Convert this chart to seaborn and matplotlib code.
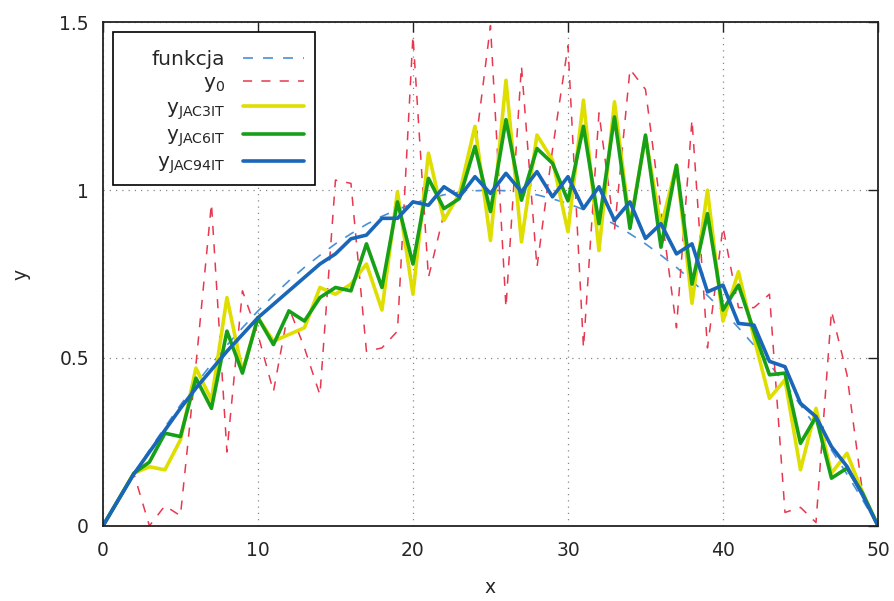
import matplotlib
matplotlib.use("Agg")
import matplotlib.pyplot as plt
from matplotlib.patches import Rectangle
import seaborn as sns
import pandas as pd

# ---- data ----
x = list(range(51))

funkcja = [0.000, 0.078, 0.154, 0.226, 0.294, 0.360, 0.422, 0.482, 0.538, 0.590,
           0.640, 0.686, 0.730, 0.770, 0.806, 0.840, 0.870, 0.898, 0.922, 0.942,
           0.960, 0.974, 0.986, 0.994, 0.998, 1.000, 0.998, 0.994, 0.986, 0.974,
           0.960, 0.942, 0.922, 0.898, 0.870, 0.840, 0.806, 0.770, 0.730, 0.686,
           0.640, 0.590, 0.538, 0.482, 0.422, 0.360, 0.294, 0.226, 0.154, 0.078,
           0.000]

y0 = [0.00, 0.08, 0.155, 0.00, 0.06, 0.03, 0.48, 0.96, 0.22, 0.70,
      0.57, 0.40, 0.65, 0.53, 0.39, 1.03, 1.02, 0.52, 0.53, 0.58,
      1.46, 0.74, 0.93, 0.98, 1.12, 1.49, 0.65, 1.37, 0.77, 1.12,
      1.43, 0.53, 1.23, 0.88, 1.36, 1.30, 0.94, 0.59, 1.21, 0.53,
      0.89, 0.65, 0.65, 0.69, 0.04, 0.055, 0.01, 0.64, 0.45, 0.10,
      0.00]

y_jac3 = [0.00, 0.078, 0.157, 0.176, 0.167, 0.256, 0.47, 0.375, 0.68, 0.46,
          0.62, 0.55, 0.57, 0.59, 0.71, 0.69, 0.72, 0.78, 0.643, 0.995,
          0.69, 1.11, 0.91, 0.99, 1.19, 0.85, 1.327, 0.846, 1.164, 1.09,
          0.876, 1.268, 0.82, 1.263, 0.896, 1.16, 0.89, 1.074, 0.663, 1.00,
          0.61, 0.757, 0.56, 0.38, 0.435, 0.167, 0.35, 0.157, 0.216, 0.10,
          0.00]

y_jac6 = [0.00, 0.078, 0.157, 0.19, 0.276, 0.266, 0.44, 0.35, 0.58, 0.455,
          0.62, 0.54, 0.64, 0.61, 0.68, 0.71, 0.70, 0.84, 0.71, 0.965,
          0.78, 1.035, 0.945, 0.975, 1.13, 0.936, 1.21, 0.97, 1.124, 1.08,
          0.968, 1.19, 0.90, 1.218, 0.886, 1.164, 0.83, 1.074, 0.72, 0.93,
          0.643, 0.717, 0.58, 0.45, 0.455, 0.246, 0.325, 0.142, 0.172, 0.098,
          0.00]

y_jac94 = [0.00, 0.078, 0.155, 0.22, 0.285, 0.35, 0.41, 0.465, 0.52, 0.57,
           0.62, 0.66, 0.70, 0.74, 0.78, 0.81, 0.855, 0.866, 0.916, 0.916,
           0.965, 0.955, 1.01, 0.98, 1.04, 0.99, 1.05, 0.995, 1.055, 0.98,
           1.04, 0.945, 1.01, 0.91, 0.965, 0.856, 0.90, 0.81, 0.84, 0.697,
           0.717, 0.603, 0.598, 0.49, 0.474, 0.365, 0.325, 0.236, 0.177, 0.092,
           0.00]

labels = ["funkcja", r"$\mathregular{y_{0}}$", r"$\mathregular{y_{JAC3IT}}$",
          r"$\mathregular{y_{JAC6IT}}$", r"$\mathregular{y_{JAC94IT}}$"]
xticks = [0, 10, 20, 30, 40, 50]
yticks = [0, 0.5, 1, 1.5]
yticklabels = ["0", "0.5", "1", "1.5"]

# ---- figure ----
sns.set_theme(style="white")
plt.rcParams["font.family"] = ["DejaVu Sans"]
plt.rcParams["mathtext.fontset"] = "dejavusans"
FS = 13.5
LFS = 14.5

fig = plt.figure(figsize=(8.95, 6.01), dpi=100)
ax = fig.add_axes([0.115, 0.125, 0.866, 0.838])

series = [funkcja, y0, y_jac3, y_jac6, y_jac94]
colors = ["#4a90d8", "#e8384f", "#dede00", "#17a017", "#1a66b8"]
widths = [1.2, 1.1, 2.6, 2.6, 2.6]
dash_patterns = [(6, 6), (6, 6), None, None, None]

handles = []
for vals, col, lw, lab, dp in zip(series, colors, widths, labels, dash_patterns):
    df = pd.DataFrame({"x": x, "y": vals})
    sns.lineplot(data=df, x="x", y="y", ax=ax, color=col, linewidth=lw,
                 label=lab, legend=False, estimator=None, sort=False)
    line = ax.lines[-1]
    if dp is not None:
        line.set_dashes(dp)
    handles.append(line)

ax.set_xlim(0, 50)
ax.set_ylim(0, 1.5)
ax.set_xticks(xticks)
ax.set_yticks(yticks)
ax.set_yticklabels(yticklabels)
ax.tick_params(axis="both", direction="in", length=7, width=1.0,
               top=True, right=True, labelsize=FS, color="#222222")
ax.tick_params(axis="x", pad=11)
ax.tick_params(axis="y", pad=10)
ax.grid(True, linestyle=(0, (1, 4)), color="#888888", linewidth=0.9)
for s in ax.spines.values():
    s.set_color("#222222")
    s.set_linewidth(1.3)
ax.set_xlabel("x", fontsize=FS, labelpad=13)
ax.set_ylabel("y", fontsize=FS, labelpad=21)

# legend box (gnuplot-style, wide left padding)
box = Rectangle((0.0129, 0.6766), 0.2606, 0.3034, transform=ax.transAxes,
                facecolor="white", edgecolor="black", linewidth=1.2, zorder=4)
ax.add_patch(box)
leg = ax.legend(handles=handles, labels=labels, loc="upper right",
                bbox_to_anchor=(0.2735, 0.966), borderaxespad=0,
                markerfirst=False, frameon=False, fontsize=LFS,
                handlelength=3.0, labelspacing=0.2, handletextpad=0.9,
                borderpad=0.55)
leg.set_zorder(5)

fig.savefig("out.png", dpi=100)
